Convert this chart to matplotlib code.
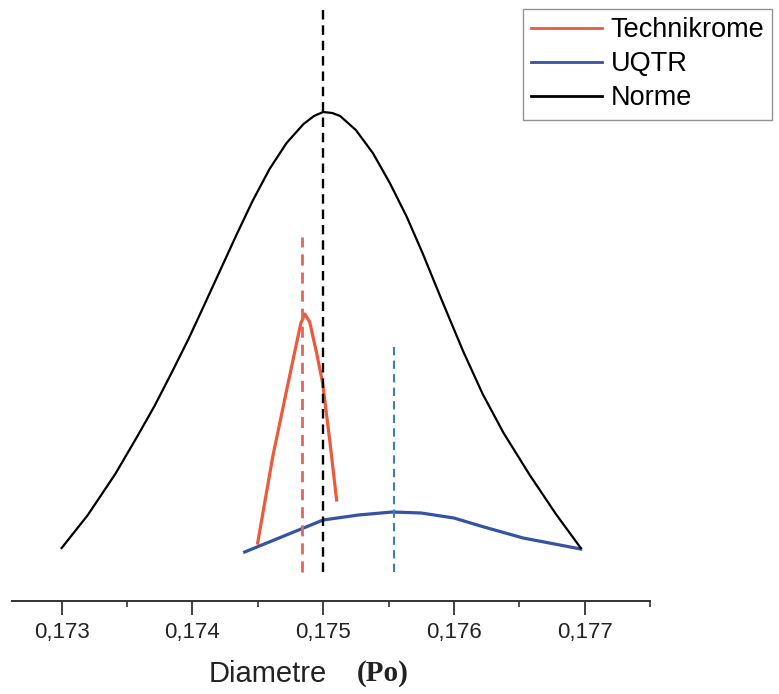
"""Diameter distributions: Technikrome vs UQTR vs standard (Norme)."""

import matplotlib.pyplot as plt
from matplotlib.ticker import MultipleLocator, FuncFormatter

# ---- data (y in arbitrary units) ----
norme_x = [0.17300, 0.17320, 0.17341, 0.17358, 0.17371, 0.17384, 0.17397,
           0.17408, 0.17421, 0.17434, 0.17446, 0.17459, 0.17472, 0.17485,
           0.17493, 0.17500, 0.17507, 0.17513, 0.17525, 0.17538, 0.17551,
           0.17564, 0.17576, 0.17591, 0.17607, 0.17622, 0.17638, 0.17658,
           0.17678, 0.17697]
norme_y = [0.53, 0.86, 1.27, 1.65, 1.95, 2.28, 2.62,
           2.93, 3.30, 3.67, 4.00, 4.32, 4.58, 4.77,
           4.85, 4.89, 4.88, 4.85, 4.71, 4.48, 4.18,
           3.84, 3.48, 3.00, 2.50, 2.07, 1.68, 1.26,
           0.87, 0.53]

techni_x = [0.174499, 0.174614, 0.174721, 0.174797, 0.174830, 0.174860,
            0.174897, 0.174950, 0.174996, 0.175050, 0.175103]
techni_y = [0.58, 1.44, 2.11, 2.58, 2.78, 2.87, 2.79, 2.48, 2.18, 1.61, 1.01]

uqtr_x = [0.17440, 0.17470, 0.17500, 0.17527, 0.17553, 0.17575, 0.17600,
          0.17623, 0.17653, 0.17697]
uqtr_y = [0.49, 0.65, 0.81, 0.86, 0.89, 0.88, 0.83, 0.74, 0.63, 0.52]

# mean markers (dashed verticals): Norme, Technikrome, UQTR
mean_x = [0.17500, 0.17484, 0.17554]
mean_top = [5.96, 3.64, 2.56]
mean_bottom = 0.29

labels = ["Technikrome", "UQTR", "Norme"]

RED = "#ec5a3c"
BLUE = "#3553a3"

fig = plt.figure(figsize=(7.79, 6.94), dpi=100)
ax = fig.add_axes([12 / 779, 93 / 694, 638 / 779, 601 / 694])

ax.plot(techni_x, techni_y, color=RED, lw=2.3, label=labels[0],
        solid_joinstyle="round")
ax.plot(uqtr_x, uqtr_y, color=BLUE, lw=2.3, label=labels[1],
        solid_joinstyle="round")
ax.plot(norme_x, norme_y, color="black", lw=1.6, label=labels[2],
        solid_joinstyle="round")

ax.vlines(mean_x[0], mean_bottom, mean_top[0], colors="black",
          linestyles=(0, (4, 2.5)), lw=1.7)
ax.vlines(mean_x[1], mean_bottom, mean_top[1], colors="#e2655c",
          linestyles=(0, (4, 2.5)), lw=2.0)
ax.vlines(mean_x[2], mean_bottom, mean_top[2], colors="#3d7cc0",
          linestyles=(0, (4, 2.5)), lw=1.5)

ax.set_xlim(0.17262, 0.1775)
ax.set_ylim(0, 6.01)

for side in ("left", "right", "top"):
    ax.spines[side].set_visible(False)
ax.spines["bottom"].set_linewidth(1.4)
ax.spines["bottom"].set_color("#333333")
ax.set_yticks([])

ax.xaxis.set_major_locator(MultipleLocator(0.001))
ax.xaxis.set_minor_locator(MultipleLocator(0.0005))
ax.xaxis.set_major_formatter(
    FuncFormatter(lambda v, _: f"{v:.3f}".replace(".", ",")))
ax.tick_params(axis="x", which="major", length=10, width=1.3,
               labelsize=16, pad=5, colors="#333333")
ax.tick_params(axis="x", which="minor", length=4, width=1.2,
               colors="#333333")
for lab in ax.get_xticklabels():
    lab.set_fontfamily(["Liberation Sans", "DejaVu Sans"])
    lab.set_color("#222222")

# x label: sans "Diametre" + bold serif "(Po)"
ax.text(0.308, -0.121, "Diametre", transform=ax.transAxes,
        fontsize=21, family=["Liberation Sans", "DejaVu Sans"],
        color="#222222", ha="left", va="center")
ax.text(0.540, -0.121, "(Po)", transform=ax.transAxes,
        fontsize=21, family=["Liberation Serif", "DejaVu Serif"],
        fontweight="bold", color="#222222", ha="left", va="center")

leg = fig.legend(loc="upper left", bbox_to_anchor=(523 / 779, 1 - 9 / 694),
                 borderaxespad=0, fancybox=False, frameon=True,
                 handlelength=2.6, handletextpad=0.33, labelspacing=0.3,
                 borderpad=0.3,
                 prop={"family": ["Liberation Sans", "DejaVu Sans"],
                       "size": 19.5})
leg.get_frame().set_edgecolor("#777777")
leg.get_frame().set_linewidth(1.0)
for h in leg.get_lines():
    h.set_linewidth(2.0)

fig.savefig("out.png", dpi=100)
